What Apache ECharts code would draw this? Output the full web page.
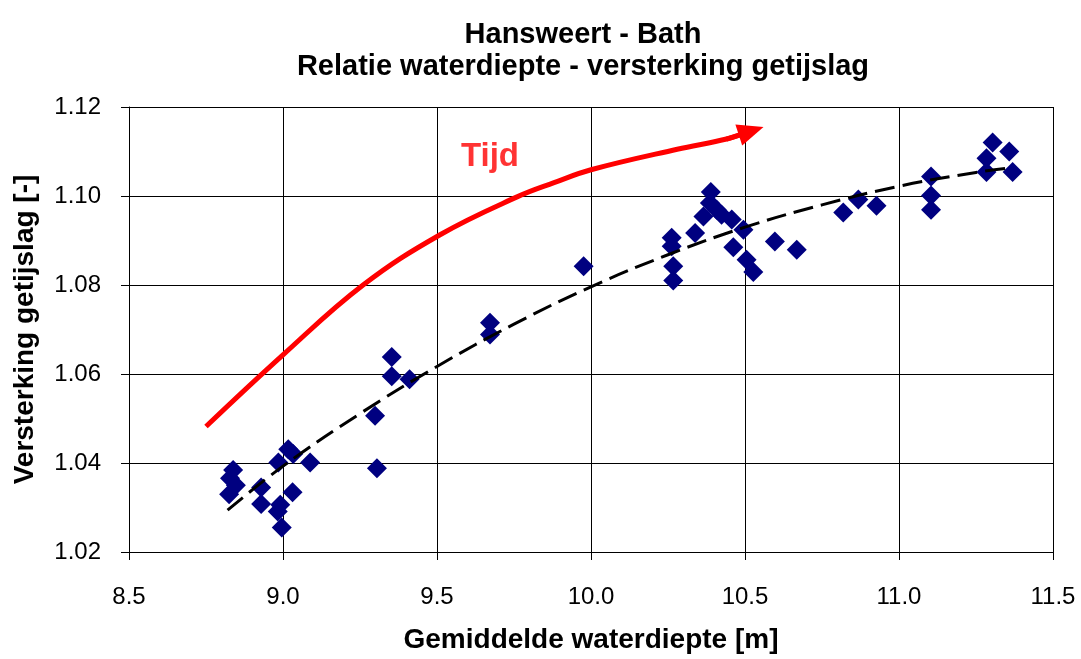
<!DOCTYPE html>
<html>
<head>
<meta charset="utf-8">
<title>Hansweert - Bath</title>
<script src="https://cdn.jsdelivr.net/npm/echarts@6/dist/echarts.min.js"></script>
<style>
  html, body { margin: 0; padding: 0; background: #fff; }
  #chart { width: 1081px; height: 659px; }
</style>
</head>
<body>
<div id="chart"></div>
<script>
// meetpunten: gemiddelde waterdiepte [m] en versterking getijslag [-]
const depthX = [
  8.838, 8.828, 8.847, 8.825, 8.929, 8.929, 8.985, 9.017, 9.033, 9.088,
  9.031, 8.991, 8.983, 8.996, 9.305, 9.299, 9.353, 9.353, 9.411, 9.672,
  9.672, 9.976,
  10.389, 10.386, 10.408, 10.365, 10.424, 10.457, 10.495, 10.338, 10.262, 10.262,
  10.462, 10.267, 10.267, 10.505, 10.527, 10.597, 10.668,
  10.819, 10.868, 10.927, 11.104, 11.104, 11.104, 11.284, 11.284, 11.304, 11.358,
  11.369
]
const gainY = [
  1.0384, 1.0366, 1.0350, 1.0330, 1.0345, 1.0308, 1.0401, 1.0431, 1.0420, 1.0401,
  1.0334, 1.0306, 1.0291, 1.0255, 1.0388, 1.0506, 1.0638, 1.0595, 1.0588, 1.0715,
  1.0689, 1.0842,
  1.1009, 1.0984, 1.0969, 1.0954, 1.0958, 1.0947, 1.0924, 1.0917, 1.0906, 1.0887,
  1.0885, 1.0842, 1.0810, 1.0857, 1.0829, 1.0898, 1.0879,
  1.0963, 1.0992, 1.0978, 1.1044, 1.1001, 1.0969, 1.1085, 1.1054, 1.1120, 1.1100,
  1.1054
]

const trendX = [8.82, 9.0, 9.25, 9.5, 9.75, 10.0, 10.25, 10.5, 10.75, 11.0, 11.25, 11.37]
const trendY = [1.0294, 1.0393, 1.0511, 1.0617, 1.0712, 1.0796, 1.0868, 1.0930, 1.0980, 1.1022, 1.1053, 1.1064]

// rode pijl "Tijd" (laatste punt = midden van de pijlpunt)
const arrowX = [8.75, 9.0, 9.26, 9.51, 9.76, 9.88, 10.0, 10.28, 10.44, 10.52]
const arrowY = [1.0482, 1.0643, 1.0800, 1.0913, 1.0998, 1.1030, 1.1059, 1.1105, 1.1128, 1.1146]
const arrowLabel = { text: 'Tijd', x: 9.672, y: 1.1088 }

const xTicks = { min: 8.5, max: 11.5, step: 0.5 }
const yTicks = { min: 1.02, max: 1.12, step: 0.02 }

const font = 'Liberation Sans, Arial, sans-serif'

const points = depthX.map((x, i) => [x, gainY[i]])
const trend = trendX.map((x, i) => [x, trendY[i]])
const arrow = arrowX.map((x, i) => [x, arrowY[i]])
const n = arrow.length

const chart = echarts.init(document.getElementById('chart'))
chart.setOption({
  animation: false,
  backgroundColor: '#fff',
  title: {
    text: 'Hansweert - Bath\nRelatie waterdiepte - versterking getijslag',
    left: 578,
    top: 14,
    textAlign: 'center',
    textStyle: {
      fontFamily: font,
      fontSize: 29,
      fontWeight: 'bold',
      color: '#000',
      lineHeight: 32
    }
  },
  grid: { left: 129, right: 28, top: 107, bottom: 106 },
  xAxis: {
    type: 'value',
    min: xTicks.min,
    max: xTicks.max,
    interval: xTicks.step,
    name: 'Gemiddelde waterdiepte [m]',
    nameLocation: 'middle',
    nameGap: 74,
    nameTextStyle: { fontFamily: font, fontSize: 28, fontWeight: 'bold', color: '#000' },
    axisLine: { show: true, lineStyle: { color: '#000', width: 1 } },
    axisTick: { show: true, inside: false, length: 8, lineStyle: { color: '#000' } },
    axisLabel: {
      margin: 33,
      fontFamily: font,
      fontSize: 24,
      color: '#000',
      formatter: v => v.toFixed(1)
    },
    splitLine: { show: true, lineStyle: { color: '#000', width: 1 } }
  },
  yAxis: {
    type: 'value',
    min: yTicks.min,
    max: yTicks.max,
    interval: yTicks.step,
    name: 'Versterking getijslag [-]',
    nameLocation: 'middle',
    nameGap: 90,
    nameTextStyle: { fontFamily: font, fontSize: 28, fontWeight: 'bold', color: '#000' },
    axisLine: { show: true, lineStyle: { color: '#000', width: 1 } },
    axisTick: { show: true, inside: false, length: 8, lineStyle: { color: '#000' } },
    axisLabel: {
      margin: 28,
      fontFamily: font,
      fontSize: 24,
      color: '#000',
      formatter: v => v.toFixed(2)
    },
    splitLine: { show: true, lineStyle: { color: '#000', width: 1 } }
  },
  series: [
    {
      name: 'metingen',
      type: 'scatter',
      symbol: 'diamond',
      symbolSize: 20,
      itemStyle: { color: '#000080', opacity: 1 },
      data: points,
      z: 3
    },
    {
      name: 'trend',
      type: 'line',
      smooth: 0.4,
      showSymbol: false,
      lineStyle: { color: '#000', width: 3, type: [20, 8] },
      data: trend,
      z: 4
    },
    {
      name: 'tijd',
      type: 'line',
      smooth: 0.4,
      showSymbol: false,
      lineStyle: { color: '#ff0000', width: 5 },
      data: arrow,
      markLine: {
        silent: true,
        symbol: ['none', 'triangle'],
        symbolSize: [22, 26],
        lineStyle: { color: '#ff0000', width: 5, type: 'solid' },
        label: { show: false },
        data: [[{ coord: arrow[n - 2] }, { coord: arrow[n - 1] }]]
      },
      z: 5
    },
    {
      name: 'label',
      type: 'scatter',
      symbolSize: 0,
      data: [[arrowLabel.x, arrowLabel.y]],
      label: {
        show: true,
        position: 'inside',
        formatter: arrowLabel.text,
        fontFamily: font,
        fontSize: 33,
        fontWeight: 'bold',
        color: '#ff0000'
      },
      z: 6
    }
  ]
})
</script>
</body>
</html>
